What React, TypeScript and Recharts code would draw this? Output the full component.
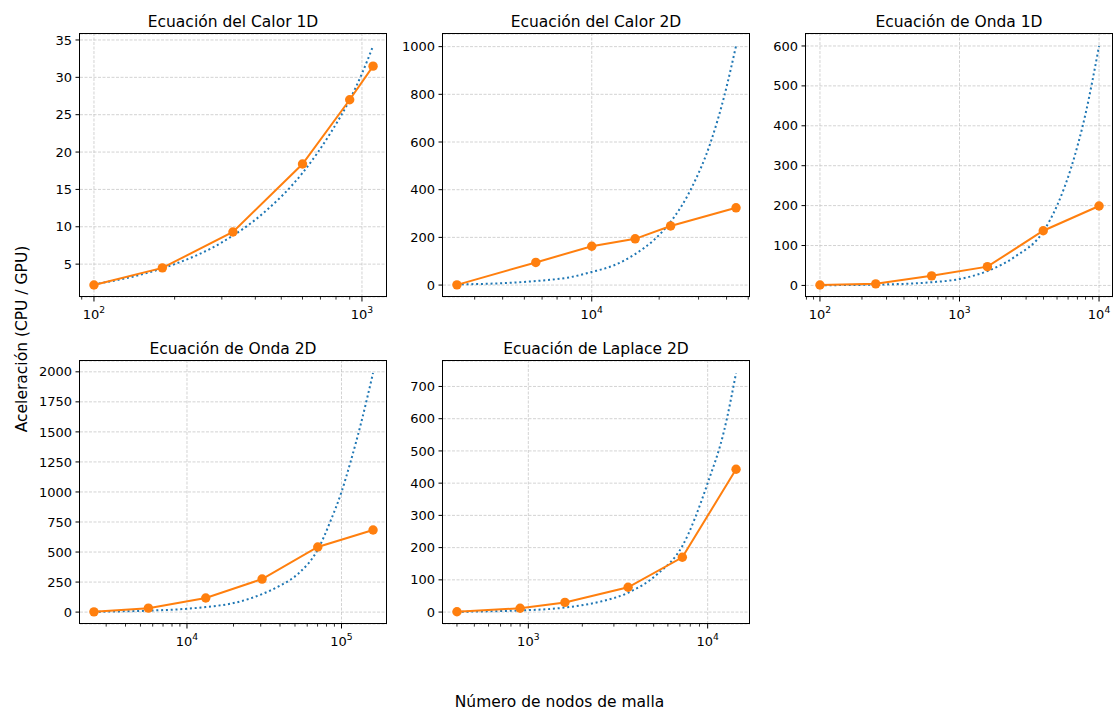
import React from "react";
import { LineChart, Line, XAxis, YAxis, CartesianGrid, ReferenceLine } from "recharts";

const FONT = "DejaVu Sans, sans-serif";
const ORANGE = "#ff7f0e";
const BLUE = "#1f77b4";
const GRID = "#c0c0c0";

// Ecuación del Calor 1D
const calor1dN = [100, 180, 330, 600, 900, 1100];
const calor1dSpeedup = [2.2, 4.5, 9.3, 18.4, 27.0, 31.5];
const calor1dFitN = [100, 150, 200, 300, 434, 600, 768, 900, 1000, 1100];
const calor1dFit = [2.3, 3.6, 5.0, 7.9, 12.0, 17.2, 22.7, 27.0, 30.5, 34.2];

// Ecuación del Calor 2D
const calor2dN = [2500, 5625, 10000, 15625, 22500, 44100];
const calor2dSpeedup = [1, 95, 163, 194, 248, 324];
const calor2dFitN = [2500, 4000, 5625, 8000, 10000, 12500, 15625, 19000, 22500, 28000, 34000, 39000, 44100];
const calor2dFit = [3, 8, 17, 33, 55, 82, 130, 190, 265, 410, 600, 790, 1003];

// Ecuación de Onda 1D
const onda1dN = [100, 251, 631, 1585, 3981, 10000];
const onda1dSpeedup = [1, 4, 24, 47, 137, 199];
const onda1dFitN = [100, 251, 631, 1000, 1585, 2500, 3981, 5000, 6310, 8000, 10000];
const onda1dFit = [0.5, 2, 8, 16, 36, 72, 135, 200, 295, 430, 600];

// Ecuación de Onda 2D
const onda2dN = [2500, 5625, 13225, 30625, 70225, 160000];
const onda2dSpeedup = [2, 33, 117, 275, 542, 683];
const onda2dFitN = [2500, 5625, 10000, 13225, 20000, 30625, 40000, 52500, 70225, 85000, 100000, 115000, 133000, 160000];
const onda2dFit = [3, 12, 28, 42, 75, 150, 220, 320, 520, 760, 1000, 1260, 1560, 1990];

// Ecuación de Laplace 2D
const laplace2dN = [400, 900, 1600, 3600, 7225, 14400];
const laplace2dSpeedup = [1, 12, 30, 77, 170, 443];
const laplace2dFitN = [400, 900, 1600, 2500, 3600, 5250, 7225, 10000, 12380, 14400];
const laplace2dFit = [1, 5, 14, 32, 60, 118, 205, 400, 565, 742];

const PLOT_W = 307;
const PLOT_H = 263;
const Y_W = 60;
const X_H = 30;
const M_TOP = 12;

function minorTicks([lo, hi]: [number, number]) {
  const out: number[] = [];
  for (let e = Math.floor(Math.log10(lo)); e <= Math.ceil(Math.log10(hi)); e++) {
    for (let m = 2; m <= 9; m++) {
      const v = m * Math.pow(10, e);
      if (v >= lo && v <= hi) out.push(v);
    }
  }
  return out;
}

function xTick(majors: number[]) {
  return (props: any) => {
    const { x, y, payload } = props;
    const v = payload.value;
    if (!majors.includes(v)) {
      return <line x1={x} x2={x} y1={y} y2={y + 2.6} stroke="#000" strokeWidth={0.8} />;
    }
    const exp = Math.round(Math.log10(v));
    return (
      <g>
        <line x1={x} x2={x} y1={y} y2={y + 4.5} stroke="#000" strokeWidth={1} />
        <text x={x} y={y + 21.5} textAnchor="middle" fontSize={13} fontFamily={FONT} fill="#000">
          <tspan>10</tspan>
          <tspan dy={-5.5} fontSize={9.2}>{exp}</tspan>
        </text>
      </g>
    );
  };
}

type PanelProps = {
  left: number;
  top: number;
  n: number[];
  y: number[];
  fitN: number[];
  fit: number[];
  xDomain: [number, number];
  xMajor: number[];
  yDomain: [number, number];
  yTicks: number[];
};

function Panel(p: PanelProps) {
  const obs = p.n.map((n, i) => ({ n, v: p.y[i] }));
  const fit = p.fitN.map((n, i) => ({ n, v: p.fit[i] }));
  const ticks = [...p.xMajor, ...minorTicks(p.xDomain)].sort((a, b) => a - b);
  return (
    <div style={{ position: "absolute", left: p.left - Y_W, top: p.top - M_TOP }}>
      <LineChart width={PLOT_W + Y_W} height={PLOT_H + X_H + M_TOP} margin={{ top: M_TOP, right: 0, bottom: 0, left: 0 }}>
        <CartesianGrid vertical={false} stroke={GRID} strokeWidth={0.7} strokeDasharray="3 1.5" />
        {p.xMajor.map((v) => (
          <ReferenceLine key={v} x={v} stroke={GRID} strokeWidth={0.7} strokeDasharray="3 1.5" />
        ))}
        <XAxis
          type="number"
          dataKey="n"
          scale="log"
          domain={p.xDomain}
          allowDataOverflow
          ticks={ticks}
          interval={0}
          tick={xTick(p.xMajor)}
          tickLine={false}
          axisLine={false}
          tickSize={0}
          tickMargin={0}
          height={X_H}
        />
        <YAxis
          type="number"
          domain={p.yDomain}
          ticks={p.yTicks}
          allowDataOverflow
          interval={0}
          width={Y_W}
          axisLine={false}
          tickLine={{ stroke: "#000", strokeWidth: 1 }}
          tickSize={4.5}
          tickMargin={3.5}
          tick={{ fill: "#000", fontSize: 13, fontFamily: FONT }}
        />
        <Line
          data={fit}
          dataKey="v"
          type="monotone"
          stroke={BLUE}
          strokeWidth={2}
          strokeDasharray="2 2.8"
          dot={false}
          activeDot={false}
          isAnimationActive={false}
        />
        <Line
          data={obs}
          dataKey="v"
          type="linear"
          stroke={ORANGE}
          strokeWidth={2}
          dot={{ r: 4.7, fill: ORANGE, stroke: ORANGE, strokeWidth: 0 }}
          activeDot={false}
          isAnimationActive={false}
        />
      </LineChart>
    </div>
  );
}

const panels = [
  {
    title: "Ecuación del Calor 1D", left: 79.5, top: 33.5,
    n: calor1dN, y: calor1dSpeedup, fitN: calor1dFitN, fit: calor1dFit,
    xDomain: [88.7, 1240] as [number, number], xMajor: [100, 1000],
    yDomain: [0.6, 35.8] as [number, number], yTicks: [5, 10, 15, 20, 25, 30, 35],
  },
  {
    title: "Ecuación del Calor 2D", left: 442.5, top: 33.5,
    n: calor2dN, y: calor2dSpeedup, fitN: calor2dFitN, fit: calor2dFit,
    xDomain: [2166, 50910] as [number, number], xMajor: [10000],
    yDomain: [-50, 1053] as [number, number], yTicks: [0, 200, 400, 600, 800, 1000],
  },
  {
    title: "Ecuación de Onda 1D", left: 805.5, top: 33.5,
    n: onda1dN, y: onda1dSpeedup, fitN: onda1dFitN, fit: onda1dFit,
    xDomain: [79.43, 12589] as [number, number], xMajor: [100, 1000, 10000],
    yDomain: [-29, 630] as [number, number], yTicks: [0, 100, 200, 300, 400, 500, 600],
  },
  {
    title: "Ecuación de Onda 2D", left: 79.5, top: 360.5,
    n: onda2dN, y: onda2dSpeedup, fitN: onda2dFitN, fit: onda2dFit,
    xDomain: [2031, 196980] as [number, number], xMajor: [10000, 100000],
    yDomain: [-99, 2090] as [number, number], yTicks: [0, 250, 500, 750, 1000, 1250, 1500, 1750, 2000],
  },
  {
    title: "Ecuación de Laplace 2D", left: 442.5, top: 360.5,
    n: laplace2dN, y: laplace2dSpeedup, fitN: laplace2dFitN, fit: laplace2dFit,
    xDomain: [334.4, 17223] as [number, number], xMajor: [1000, 10000],
    yDomain: [-37, 779] as [number, number], yTicks: [0, 100, 200, 300, 400, 500, 600, 700],
  },
];

export default function App() {
  return (
    <div style={{ position: "absolute", left: 0, top: 0, width: 1115, height: 712, background: "#fff", overflow: "hidden" }}>
      {panels.map((p) => (
        <Panel key={p.title} {...p} />
      ))}
      <svg width={1115} height={712} style={{ position: "absolute", left: 0, top: 0, pointerEvents: "none" }}>
        {panels.map((p) => (
          <g key={p.title}>
            <rect x={p.left} y={p.top} width={PLOT_W} height={PLOT_H} fill="none" stroke="#000" strokeWidth={1} />
            <text x={p.left + PLOT_W / 2} y={p.top - 7} textAnchor="middle" fontSize={15.5} fontFamily={FONT} fill="#000">
              {p.title}
            </text>
          </g>
        ))}
        <text x={559.5} y={706.5} textAnchor="middle" fontSize={15.5} fontFamily={FONT} fill="#000">
          Número de nodos de malla
        </text>
        <text transform="translate(26.5,339) rotate(-90)" textAnchor="middle" fontSize={15.5} fontFamily={FONT} fill="#000">
          Aceleración (CPU / GPU)
        </text>
      </svg>
    </div>
  );
}
